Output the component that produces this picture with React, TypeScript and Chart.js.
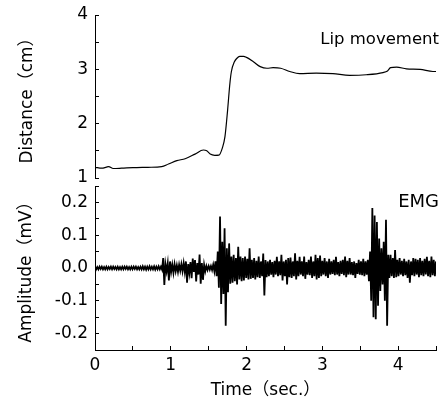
import React, { useEffect, useRef } from "react";
import { Chart, registerables } from "chart.js";

Chart.register(...registerables);

// ---- Data ----
const lipTime = [
  0, 0.09, 0.15, 0.18, 0.24, 0.35, 0.5, 0.7, 0.88, 0.97, 1.08, 1.19, 1.32, 1.43, 1.475,
  1.52, 1.58, 1.635, 1.68, 1.715, 1.75, 1.78, 1.8, 1.84, 1.87, 1.91, 1.96, 2.0, 2.09,
  2.18, 2.27, 2.35, 2.45, 2.57, 2.7, 2.92, 3.14, 3.36, 3.58, 3.8, 3.86, 3.9, 3.98, 4.11,
  4.29, 4.46, 4.5,
];
const lipDistance = [
  1.197, 1.18, 1.2, 1.21, 1.175, 1.18, 1.19, 1.197, 1.21, 1.258, 1.32, 1.355, 1.44, 1.515, 1.5,
  1.44, 1.417, 1.42, 1.55, 1.76, 2.25, 2.74, 2.96, 3.14, 3.2, 3.24, 3.24, 3.22, 3.14,
  3.05, 3.02, 3.03, 3.02, 2.96, 2.92, 2.93, 2.92, 2.89, 2.9, 2.94, 2.97, 3.03, 3.04, 3.01,
  3.0, 2.96, 2.96,
];

const emgStart = 0;
const emgStep = 0.015;
const emgValues = [
  // 0.00 - 0.285
  0.004, -0.004, 0.003, -0.004, 0.004, -0.003, 0.004, -0.004, 0.003, -0.004, 0.004, -0.004, 0.003, -0.003, 0.004, -0.004, 0.004, -0.003, 0.003, -0.004,
  // 0.30 - 0.585
  0.004, -0.004, 0.003, -0.004, 0.004, -0.004, 0.004, -0.003, 0.004, -0.004, 0.003, -0.004, 0.004, -0.004, 0.004, -0.003, 0.004, -0.004, 0.003, -0.004,
  // 0.60 - 0.885
  0.004, -0.004, 0.005, -0.004, 0.004, -0.005, 0.004, -0.004, 0.005, -0.004, 0.004, -0.004, 0.005, -0.005, 0.004, -0.004, 0.005, -0.004, 0.004, -0.005,
  // 0.90 - 1.185
  0.03, -0.052, 0.012, -0.01, 0.015, -0.038, 0.02, -0.012, 0.01, -0.015, 0.012, -0.01, 0.008, -0.012, 0.01, -0.008, 0.012, -0.01, 0.015, -0.012,
  // 1.20 - 1.485
  0.02, -0.045, 0.012, -0.015, 0.018, -0.031, 0.029, -0.012, 0.024, -0.041, 0.015, -0.02, 0.041, -0.048, 0.015, -0.036, 0.01, -0.01, 0.006, -0.006,
  // 1.50 - 1.785
  0.006, -0.005, 0.006, -0.006, 0.01, -0.01, 0.02, -0.025, 0.05, -0.06, 0.157, -0.11, 0.08, -0.079, 0.121, -0.176, 0.06, -0.074, 0.075, -0.048,
  // 1.80 - 2.085
  0.035, -0.045, 0.04, -0.04, 0.03, -0.05, 0.065, -0.035, 0.035, -0.04, 0.03, -0.038, 0.035, -0.03, 0.028, -0.035, 0.06, -0.033, 0.025, -0.03,
  // 2.10 - 2.385
  0.03, -0.035, 0.022, -0.028, 0.035, -0.03, 0.02, -0.025, 0.044, -0.084, 0.024, -0.028, 0.02, -0.025, 0.025, -0.02, 0.018, -0.028, 0.022, -0.02,
  // 2.40 - 2.685
  0.034, -0.025, 0.02, -0.022, 0.04, -0.038, 0.02, -0.025, 0.025, -0.05, 0.03, -0.028, 0.032, -0.03, 0.02, -0.025, 0.045, -0.035, 0.022, -0.025,
  // 2.70 - 2.985
  0.034, -0.02, 0.02, -0.025, 0.035, -0.033, 0.018, -0.02, 0.025, -0.022, 0.035, -0.03, 0.02, -0.025, 0.04, -0.035, 0.03, -0.03, 0.038, -0.025,
  // 3.00 - 3.285
  0.022, -0.02, 0.03, -0.025, 0.02, -0.03, 0.028, -0.02, 0.02, -0.018, 0.025, -0.022, 0.034, -0.02, 0.018, -0.025, 0.022, -0.018, 0.025, -0.022,
  // 3.30 - 3.585
  0.035, -0.028, 0.022, -0.02, 0.03, -0.02, 0.018, -0.022, 0.02, -0.03, 0.015, -0.018, 0.025, -0.02, 0.02, -0.022, 0.028, -0.025, 0.02, -0.02,
  // 3.60 - 3.885
  0.025, -0.04, 0.05, -0.1, 0.183, -0.15, 0.16, -0.156, 0.14, -0.115, 0.09, -0.07, 0.06, -0.05, 0.08, -0.1, 0.147, -0.176, 0.04, -0.03,
  // 3.90 - 4.185
  0.04, -0.025, 0.03, -0.03, 0.055, -0.028, 0.025, -0.025, 0.03, -0.02, 0.022, -0.025, 0.028, -0.022, 0.02, -0.03, 0.025, -0.045, 0.02, -0.022,
  // 4.20 - 4.485
  0.03, -0.025, 0.028, -0.02, 0.025, -0.028, 0.03, -0.022, 0.022, -0.025, 0.028, -0.02, 0.034, -0.025, 0.022, -0.028, 0.035, -0.022, 0.025, -0.025,
  // 4.50
  0.02,
];

const timeMin = 0;
const timeMax = 4.5;
const distanceMin = 1;
const distanceMax = 4;
const ampMin = -0.25;
const ampMax = 0.25;

const labels = {
  top: "Lip movement",
  bottom: "EMG",
  distance: "Distance（cm）",
  amplitude: "Amplitude（mV）",
  time: "Time（sec.）",
};

const FONT = '"DejaVu Sans", "Noto Sans CJK JP", sans-serif';
const FS = 17;

const cornerLabel = (text: string, y: number, size: number) => ({
  id: "cornerLabel",
  afterDatasetsDraw(chart: any) {
    const ctx = chart.ctx;
    ctx.save();
    ctx.font = `${size}px ${FONT}`;
    ctx.fillStyle = "#000";
    ctx.textAlign = "right";
    ctx.textBaseline = "middle";
    ctx.fillText(text, chart.width - 6, y);
    ctx.restore();
  },
});

const yAxisCommon = {
  grid: { drawOnChartArea: false, tickLength: -4, color: "#000", tickColor: "#000" },
  border: { display: true, color: "#000", width: 1 },
  afterFit: (s: any) => {
    s.width = 95;
  },
};

// y tick font: tiny line height so the labels do not push the plot area
const yTickFont = { family: FONT, size: FS, lineHeight: 0.05 };

export default function App() {
  const topRef = useRef<HTMLCanvasElement>(null);
  const botRef = useRef<HTMLCanvasElement>(null);

  useEffect(() => {
    const lipData = lipTime.map((t, i) => ({ x: t, y: lipDistance[i] }));
    const emgData = emgValues.map((v, i) => ({ x: emgStart + i * emgStep, y: v }));

    const top = new Chart(topRef.current!, {
      type: "line",
      data: {
        datasets: [
          {
            data: lipData,
            borderColor: "#000",
            borderWidth: 1.2,
            pointRadius: 0,
            cubicInterpolationMode: "monotone",
          },
        ],
      },
      options: {
        responsive: false,
        animation: false,
        layout: { autoPadding: false, padding: { left: 0, right: 9, top: 15, bottom: 12 } },
        plugins: { legend: { display: false }, tooltip: { enabled: false } },
        scales: {
          x: { type: "linear", min: timeMin, max: timeMax, display: false },
          y: {
            ...yAxisCommon,
            type: "linear",
            min: distanceMin,
            max: distanceMax,
            ticks: {
              stepSize: 0.5,
              padding: 11,
              color: "#000",
              font: yTickFont,
              callback: (v: any) => (Number.isInteger(v) ? String(v) : ""),
            },
            title: {
              display: true,
              text: labels.distance,
              color: "#000",
              font: { family: FONT, size: FS },
              padding: { top: 17, bottom: 0 },
            },
          },
        },
      } as any,
      plugins: [cornerLabel(labels.top, 40, 16.5)],
    });

    const bot = new Chart(botRef.current!, {
      type: "line",
      data: {
        datasets: [
          {
            data: emgData,
            borderColor: "#000",
            borderWidth: 1.8,
            pointRadius: 0,
            tension: 0,
          },
        ],
      },
      options: {
        responsive: false,
        animation: false,
        layout: { autoPadding: false, padding: { left: 0, right: 9, top: 16, bottom: 0 } },
        plugins: { legend: { display: false }, tooltip: { enabled: false } },
        scales: {
          x: {
            type: "linear",
            min: timeMin,
            max: timeMax,
            grid: { drawOnChartArea: false, tickLength: -4, color: "#000", tickColor: "#000" },
            border: { display: true, color: "#000", width: 1 },
            ticks: {
              stepSize: 0.5,
              padding: 9,
              color: "#000",
              maxRotation: 0,
              autoSkip: false,
              font: { family: FONT, size: FS },
              callback: (v: any) => (Number.isInteger(v) ? String(v) : ""),
            },
            title: {
              display: true,
              text: labels.time,
              color: "#000",
              font: { family: FONT, size: FS },
              padding: { top: 0, bottom: 2 },
            },
            afterFit: (s: any) => {
              s.height = 53;
            },
          },
          y: {
            ...yAxisCommon,
            type: "linear",
            min: ampMin,
            max: ampMax,
            ticks: {
              stepSize: 0.05,
              padding: 11,
              color: "#000",
              autoSkip: false,
              font: yTickFont,
              callback: (v: any) => {
                const k = v * 10;
                return Math.abs(k - Math.round(k)) < 1e-6 ? (Math.round(k) / 10).toFixed(1) : "";
              },
            },
            title: {
              display: true,
              text: labels.amplitude,
              color: "#000",
              font: { family: FONT, size: FS },
              padding: { top: 16, bottom: 0 },
            },
          },
        },
      } as any,
      plugins: [cornerLabel(labels.bottom, 32, 18)],
    });

    return () => {
      top.destroy();
      bot.destroy();
    };
  }, []);

  return (
    <div style={{ position: "fixed", left: 0, top: 0, width: 445, height: 403, background: "#fff" }}>
      <canvas ref={topRef} width={445} height={190} style={{ position: "absolute", left: 0, top: 0 }} />
      <canvas ref={botRef} width={445} height={233} style={{ position: "absolute", left: 0, top: 170 }} />
    </div>
  );
}
